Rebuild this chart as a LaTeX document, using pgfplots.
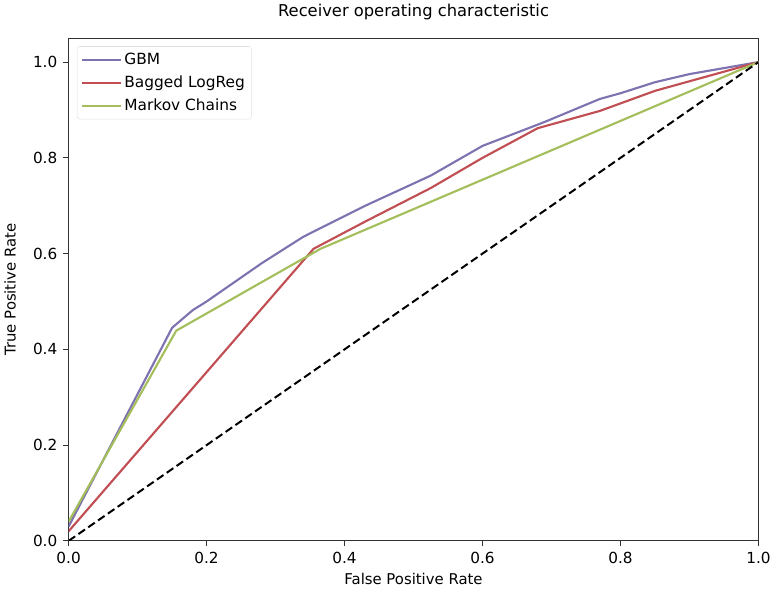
\documentclass[border=0pt]{standalone}
\usepackage{fontspec}
\setmainfont{DejaVu Sans}
\usepackage{pgfplots}
\pgfplotsset{compat=1.18}

\definecolor{gbm}{HTML}{7F72B0}
\definecolor{logreg}{HTML}{C04E52}
\definecolor{markov}{HTML}{A3BE5A}

\begin{document}
\begin{tikzpicture}
\begin{axis}[
  scale only axis,
  width=519.75pt,
  height=378.75pt,
  xmin=0, xmax=1,
  ymin=0, ymax=1.05,
  xtick={0,0.2,0.4,0.6,0.8,1.0},
  ytick={0,0.2,0.4,0.6,0.8,1.0},
  /pgf/number format/assume math mode=true,
  /pgf/number format/.cd, fixed, fixed zerofill, precision=1, /pgfplots/.cd,
  tick align=outside,
  tick pos=left,
  major tick length=4pt,
  tick style={black!80, line width=0.6pt},
  axis line style={black!80, line width=0.6pt},
  every tick label/.append style={font=\fontsize{11.5}{13}\selectfont},
  yticklabel style={xshift=-1pt},
  xticklabel style={yshift=-1pt},
  title={Receiver operating characteristic},
  title style={font=\fontsize{12.3}{14}\selectfont, yshift=4pt},
  xlabel={False Positive Rate},
  ylabel={True Positive Rate},
  label style={font=\fontsize{11.2}{13}\selectfont},
  ylabel shift=6pt,
  legend cell align=left,
  legend style={at={(0.012,0.984)}, anchor=north west, draw=black!12,
    rounded corners=2pt, font=\fontsize{11.6}{13}\selectfont,
    inner sep=3pt, row sep=3pt},
  legend image code/.code={%
    \draw[#1] (0pt,0pt) -- (25pt,0pt);
    \path (0pt,0pt) -- (29pt,0pt);},
  every axis plot/.append style={line width=1.6pt, line join=round},
]

% GBM
\addplot[gbm] coordinates {
  (0,0.03) (0.15,0.445) (0.18,0.482) (0.20,0.50) (0.25,0.55) (0.28,0.58)
  (0.34,0.635) (0.43,0.70) (0.525,0.763) (0.60,0.825) (0.69,0.875)
  (0.77,0.923) (0.80,0.935) (0.85,0.958) (0.90,0.975) (1.0,1.0)
};
% Bagged LogReg
\addplot[logreg] coordinates {
  (0,0.02) (0.355,0.61) (0.43,0.667) (0.525,0.737) (0.60,0.80)
  (0.68,0.862) (0.77,0.898) (0.85,0.94) (1.0,1.0)
};
% Markov Chains
\addplot[markov] coordinates {
  (0,0.04) (0.156,0.439) (0.365,0.61) (1.0,1.0)
};
% chance line
\addplot[black, line width=1.5pt, dash pattern=on 6pt off 3pt, forget plot]
  coordinates {(0,0) (1,1)};

\legend{GBM, Bagged LogReg, Markov Chains}
\end{axis}
\end{tikzpicture}
\end{document}
